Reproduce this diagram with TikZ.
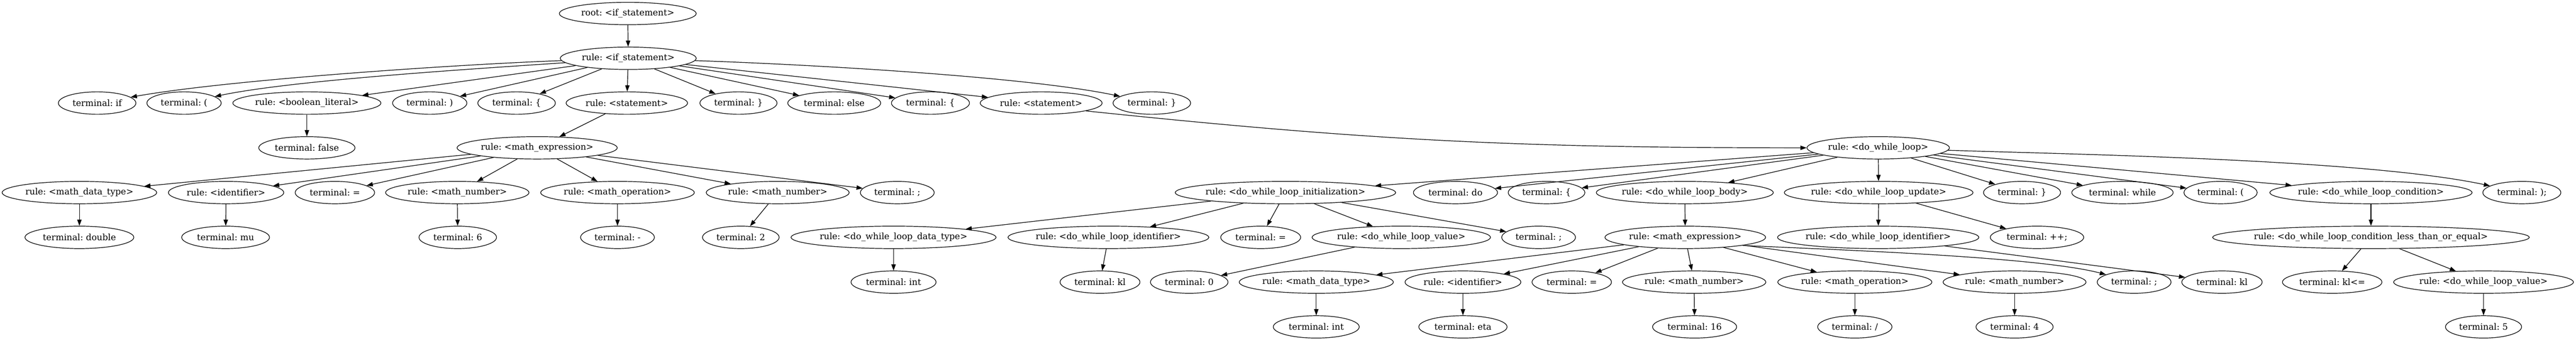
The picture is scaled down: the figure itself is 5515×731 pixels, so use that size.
\documentclass[tikz,border=0pt]{standalone}
\usepackage{fontspec}
\newfontfamily\gvfont{DejaVu Serif}
\usetikzlibrary{arrows.meta,shapes.geometric}
\frenchspacing
% 1 px of the reference = 0.25pt here
\tikzset{
  gv/.style={draw, ellipse, line width=0.3333pt, inner sep=0pt, minimum height=12pt,
    font=\gvfont\fontsize{4.667}{5.5}\selectfont},
  edge/.style={line width=0.3333pt, -{Triangle[length=3.333pt,width=2.333pt]}}
}
\newcommand\gvn[5]{\node[gv, minimum width=#4*0.25pt] (#1) at (#2,-#3) {\makebox[0pt]{#5}};}
\begin{document}
\begin{tikzpicture}[x=0.25pt,y=0.25pt]
\useasboundingbox (0,0) rectangle (5515,-731);
% level 0-1
\gvn{root}{1344}{29}{293}{root: <if\_statement>}
\gvn{ifs}{1345}{125}{291}{rule: <if\_statement>}
% level 2
\gvn{tif}{208}{221}{166}{terminal: if}
\gvn{tlpA}{394}{221}{159}{terminal: (}
\gvn{bool}{657}{221}{317}{rule: <boolean\_literal>}
\gvn{trpA}{920}{221}{159}{terminal: )}
\gvn{tlbA}{1106}{221}{166}{terminal: \{}
\gvn{stmtA}{1342}{221}{260}{rule: <statement>}
\gvn{trbA}{1581}{221}{165}{terminal: \}}
\gvn{telse}{1786}{221}{199}{terminal: else}
\gvn{tlbB}{1992}{221}{167}{terminal: \{}
\gvn{stmtB}{2229}{221}{261}{rule: <statement>}
\gvn{trbB}{2466}{221}{166}{terminal: \}}
% level 3
\gvn{tfalse}{657}{317}{206}{terminal: false}
\gvn{mexpA}{1150}{317}{343}{rule: <math\_expression>}
\gvn{dwl}{4021}{317}{305}{rule: <do\_while\_loop>}
% level 4
\gvn{mdtA}{170}{413}{331}{rule: <math\_data\_type>}
\gvn{idA}{484}{413}{247}{rule: <identifier>}
\gvn{teqA}{717}{413}{170}{terminal: =}
\gvn{mnA}{979}{413}{307}{rule: <math\_number>}
\gvn{mopA}{1322}{413}{329}{rule: <math\_operation>}
\gvn{mnB}{1665}{413}{306}{rule: <math\_number>}
\gvn{tscA}{1921}{413}{158}{terminal: ;}
\gvn{init}{2752}{413}{472}{rule: <do\_while\_loop\_initialization>}
\gvn{tdo}{3116}{413}{180}{terminal: do}
\gvn{tlbC}{3311}{413}{164}{terminal: \{}
\gvn{body}{3607}{413}{379}{rule: <do\_while\_loop\_body>}
\gvn{upd}{4022}{413}{404}{rule: <do\_while\_loop\_update>}
\gvn{trbC}{4329}{413}{165}{terminal: \}}
\gvn{twhile}{4544}{413}{217}{terminal: while}
\gvn{tlpB}{4754}{413}{157}{terminal: (}
\gvn{cond}{5076}{413}{433}{rule: <do\_while\_loop\_condition>}
\gvn{trpsc}{5399}{413}{167}{terminal: );}
% level 5
\gvn{tdouble}{170}{509}{233}{terminal: double}
\gvn{tmu}{483}{509}{188}{terminal: mu}
\gvn{tsix}{980}{509}{166}{terminal: 6}
\gvn{tminus}{1322}{509}{158}{terminal: -}
\gvn{ttwo}{1586}{509}{164}{terminal: 2}
\gvn{dt}{1913}{509}{439}{rule: <do\_while\_loop\_data\_type>}
\gvn{did}{2373}{509}{430}{rule: <do\_while\_loop\_identifier>}
\gvn{teqB}{2699}{509}{171}{terminal: =}
\gvn{dval}{3000}{509}{382}{rule: <do\_while\_loop\_value>}
\gvn{tscB}{3294}{509}{158}{terminal: ;}
\gvn{mexpB}{3608}{509}{344}{rule: <math\_expression>}
\gvn{uid}{4021}{509}{431}{rule: <do\_while\_loop\_identifier>}
\gvn{tpp}{4361}{509}{200}{terminal: ++;}
\gvn{lte}{5076}{509}{678}{rule: <do\_while\_loop\_condition\_less\_than\_or\_equal>}
% level 6
\gvn{tintA}{1913}{605}{182}{terminal: int}
\gvn{tklA}{2355}{605}{171}{terminal: kl}
\gvn{tzero}{2546}{605}{166}{terminal: 0}
\gvn{mdtB}{2818}{605}{330}{rule: <math\_data\_type>}
\gvn{idB}{3132}{605}{248}{rule: <identifier>}
\gvn{teqC}{3365}{605}{170}{terminal: =}
\gvn{mnC}{3627}{605}{307}{rule: <math\_number>}
\gvn{mopB}{3971}{605}{330}{rule: <math\_operation>}
\gvn{mnD}{4313}{605}{306}{rule: <math\_number>}
\gvn{tscC}{4569}{605}{158}{terminal: ;}
\gvn{tklB}{4757}{605}{172}{terminal: kl}
\gvn{tkle}{4993}{605}{213}{terminal: kl<=}
\gvn{valB}{5317}{605}{385}{rule: <do\_while\_loop\_value>}
% level 7
\gvn{tintB}{2818}{701}{184}{terminal: int}
\gvn{teta}{3132}{701}{189}{terminal: eta}
\gvn{tsixteen}{3628}{701}{180}{terminal: 16}
\gvn{tdiv}{3971}{701}{159}{terminal: /}
\gvn{tfour}{4313}{701}{165}{terminal: 4}
\gvn{tfive}{5317}{701}{163}{terminal: 5}
% edges
\draw[edge] (root) -- (ifs);
\draw[edge] (ifs.182) .. controls +(-219,-8) and +(216,38) .. (tif.10);
\draw[edge] (ifs.184) .. controls +(-175,-12) and +(171,36) .. (tlpA.12);
\draw[edge] (ifs) -- (bool);
\draw[edge] (ifs) -- (trpA);
\draw[edge] (ifs) -- (tlbA);
\draw[edge] (ifs) -- (stmtA);
\draw[edge] (ifs) -- (trbA);
\draw[edge] (ifs) -- (telse);
\draw[edge] (ifs) -- (tlbB);
\draw[edge] (ifs) -- (stmtB);
\draw[edge] (ifs.-2) .. controls +(214,-7) and +(-209,44) .. (trbB.168);
\draw[edge] (bool) -- (tfalse);
\draw[edge] (stmtA) -- (mexpA);
\draw[edge] (stmtB.-10) .. controls +(612,-64) and +(-615,0) .. (dwl.west);
\foreach \c in {mdtA,idA,teqA,mnA,mopA,mnB,tscA} \draw[edge] (mexpA) -- (\c);
\draw[edge] (mdtA) -- (tdouble);
\draw[edge] (idA) -- (tmu);
\draw[edge] (mnA) -- (tsix);
\draw[edge] (mopA) -- (tminus);
\draw[edge] (mnB) -- (ttwo);
\foreach \c in {init,tdo,tlbC,body,upd,trbC,twhile,tlpB,cond} \draw[edge] (dwl) -- (\c);
\draw[edge] (dwl.-2) .. controls +(272,-9) and +(-266,57) .. (trpsc.168);
\foreach \c in {dt,did,teqB,dval,tscB} \draw[edge] (init) -- (\c);
\draw[edge] (dval) -- (tzero);
\draw[edge] (body) -- (mexpB);
\draw[edge] (upd) -- (uid);
\draw[edge] (upd) -- (tpp);
\draw[edge] (cond) -- (lte);
\foreach \c in {mdtB,idB,teqC,mnC,mopB,mnD} \draw[edge] (mexpB) -- (\c);
\draw[edge] (mexpB.-8) .. controls +(156,-8) and +(-151,40) .. (tscC.165);
\draw[edge] (uid) -- (tklB);
\draw[edge] (lte) -- (tkle);
\draw[edge] (lte) -- (valB);
\draw[edge] (valB) -- (tfive);
\draw[edge] (dt) -- (tintA);
\draw[edge] (did) -- (tklA);
\draw[edge] (mdtB) -- (tintB);
\draw[edge] (idB) -- (teta);
\draw[edge] (mnC) -- (tsixteen);
\draw[edge] (mopB) -- (tdiv);
\draw[edge] (mnD) -- (tfour);
\end{tikzpicture}
\end{document}
